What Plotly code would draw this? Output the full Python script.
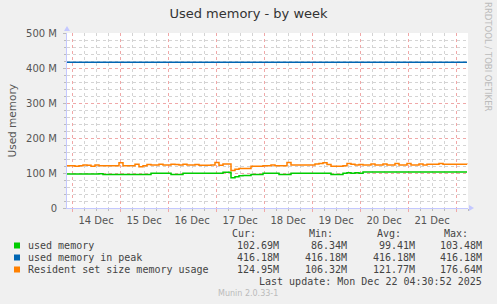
import pandas as pd
import plotly.graph_objects as go

# ---- data (values in M; one sample every 2 hours) ----
start_time = "2025-12-13 21:30"
used_memory = [97, 97, 97, 97, 97, 97, 97, 97, 98,
               96, 96, 96, 96, 96, 96, 96, 96, 96, 96, 96, 96,
               99, 99, 99, 99, 99,
               96, 96, 96,
               99, 99, 99, 99, 99, 99, 99, 99, 99, 99,
               102.5, 102.5, 86.3, 89, 92, 93, 93,
               96, 96, 96,
               99, 99, 99, 99,
               96, 96, 96,
               99, 99, 99, 99, 99, 99, 99, 99, 99, 99,
               96, 96, 96,
               99, 101, 99, 101, 99,
               102.7, 102.7, 102.7, 102.7, 102.7, 102.7, 102.7, 102.7, 102.7,
               102.7, 102.7, 102.7, 102.7, 102.7, 102.7, 102.7, 102.7, 102.7,
               102.7, 102.7, 102.7, 102.7, 102.7, 102.7, 102.7, 102.7, 102.69]
rss_memory = [121, 121, 119, 121, 123, 122, 119, 123, 121, 121, 121, 121, 121, 129,
              121, 121, 121, 125, 118, 121, 124,
              123, 123, 125, 123, 123, 125, 124, 123, 125, 123, 123, 124, 122, 122,
              122, 123, 130, 122, 126, 126,
              107, 111, 113, 113, 113, 119, 119, 119, 121, 121, 123, 121, 121, 121, 130,
              123, 123, 123, 123, 123, 123, 126, 127, 129, 124, 119, 119, 119, 121,
              127, 125, 123, 124,
              123, 123, 126, 123, 123, 126, 123, 123, 127, 123, 123, 127, 123, 123,
              126, 123,
              125, 125, 125, 127, 125, 125, 125, 125, 125, 125, 124.95]
peak_memory = [416.18, 416.18]

series_names = ["used memory", "used memory in peak", "Resident set size memory usage"]
series_colors = ["#00CC00", "#0066B3", "#FF8000"]
stat_headers = ["Cur:", "Min:", "Avg:", "Max:"]
stat_cur = ["102.69M", "416.18M", "124.95M"]
stat_min = ["86.34M", "416.18M", "106.32M"]
stat_avg = ["99.41M", "416.18M", "121.77M"]
stat_max = ["103.48M", "416.18M", "176.64M"]
y_tickvals = [0, 100, 200, 300, 400, 500]
y_ticktext = ["0", "100 M", "200 M", "300 M", "400 M", "500 M"]

times = pd.date_range(start_time, periods=len(used_memory), freq="2h")
peak_times = [times[0], times[-1]]

# ---- layout helpers (pixel -> paper) ----
L, T, W, H = 67, 33, 401, 175


def px(x):
    return (x - L) / W


def py(y):
    return (T + H - y) / H


fig = go.Figure()
fig.add_trace(go.Scatter(x=times, y=used_memory, mode="lines", line_shape="hv",
                         line=dict(color=series_colors[0], width=1.5), name=series_names[0]))
fig.add_trace(go.Scatter(x=peak_times, y=peak_memory, mode="lines",
                         line=dict(color=series_colors[1], width=1.5), name=series_names[1]))
fig.add_trace(go.Scatter(x=times, y=rss_memory, mode="lines", line_shape="hv",
                         line=dict(color=series_colors[2], width=1.5), name=series_names[2]))

axis_col = "#C4C8FF"
fig.update_layout(
    width=497, height=304,
    margin=dict(l=L, r=497 - L - W, t=T, b=304 - T - H),
    paper_bgcolor="#F0F0F0", plot_bgcolor="#FFFFFF",
    showlegend=False,
    font=dict(family="DejaVu Sans", size=10, color="#555555"),
    title=dict(text="Used memory - by week", x=0.5, xanchor="center", xref="container",
               y=1 - 13 / 304, yanchor="middle", yref="container",
               font=dict(family="DejaVu Sans", size=13, color="#333333")),
    xaxis=dict(
        type="date",
        range=["2025-12-13 21:30", "2025-12-22 06:00"],
        tick0="2025-12-14", dtick=86400000,
        tickformat="%d %b", ticklabelmode="period",
        showgrid=True, gridcolor="#F0A8A8", griddash="dot", gridwidth=1,
        ticks="outside", ticklen=3, tickcolor="#F0A8A8",
        showline=True, linecolor=axis_col, linewidth=1,
        zeroline=False,
        tickfont=dict(family="DejaVu Sans", size=10, color="#555555"),
        minor=dict(tick0="2025-12-14", dtick=6 * 3600 * 1000, showgrid=True,
                   gridcolor="#D4D4D4", griddash="dot", gridwidth=1,
                   ticks="outside", ticklen=2, tickcolor="#BBBBBB"),
    ),
    yaxis=dict(
        range=[0, 500],
        tickvals=y_tickvals, ticktext=y_ticktext,
        showgrid=True, gridcolor="#F0A8A8", griddash="dot", gridwidth=1,
        ticks="outside", ticklen=3, tickcolor="#BBBBBB",
        showline=True, linecolor=axis_col, linewidth=1,
        zeroline=False,
        ticklabelstandoff=4,
        tickfont=dict(family="DejaVu Sans", size=10, color="#555555"),
        minor=dict(dtick=20, showgrid=True, gridcolor="#D4D4D4", griddash="dot",
                   gridwidth=1, ticks="outside", ticklen=2, tickcolor="#BBBBBB"),
    ),
)

annotations = []
shapes = []

# axis arrows
shapes.append(dict(type="path", xref="paper", yref="paper",
                   path=f"M {px(64)} {py(31)} L {px(70)} {py(31)} L {px(67)} {py(26)} Z",
                   fillcolor=axis_col, line=dict(width=0)))
shapes.append(dict(type="path", xref="paper", yref="paper",
                   path=f"M {px(469)} {py(205)} L {px(469)} {py(211)} L {px(474)} {py(208)} Z",
                   fillcolor=axis_col, line=dict(width=0)))

# y axis title
annotations.append(dict(text="Used memory", xref="paper", yref="paper",
                        x=px(11), y=py(120.5), xanchor="center", yanchor="middle",
                        textangle=-90, showarrow=False,
                        font=dict(family="DejaVu Sans", size=10.5, color="#555555")))

# right watermark
annotations.append(dict(text="RRDTOOL / TOBI OETIKER", xref="paper", yref="paper",
                        x=px(488), y=py(57), xanchor="center", yanchor="middle",
                        textangle=90, showarrow=False,
                        font=dict(family="DejaVu Sans", size=8.5, color="#BBBBBB")))

mono = dict(family="DejaVu Sans Mono", size=10, color="#444444")

# legend header
header_right = [257, 334, 402, 469]
for h, xr in zip(stat_headers, header_right):
    annotations.append(dict(text=h, xref="paper", yref="paper", x=px(xr), y=py(233),
                            xanchor="right", yanchor="middle", showarrow=False,
                            font=mono, borderpad=0))

rows_y = [245.5, 257.5, 269.5]
value_right = [280, 348, 416, 483]
for i, (name, col, ry) in enumerate(zip(series_names, series_colors, rows_y)):
    shapes.append(dict(type="rect", xref="paper", yref="paper",
                       x0=px(14), x1=px(20), y0=py(ry + 3), y1=py(ry - 3),
                       fillcolor=col, line=dict(width=0)))
    annotations.append(dict(text=name, xref="paper", yref="paper", x=px(27), y=py(ry),
                            xanchor="left", yanchor="middle", showarrow=False,
                            font=mono, borderpad=0))
    for vals, xr in zip([stat_cur, stat_min, stat_avg, stat_max], value_right):
        annotations.append(dict(text=vals[i], xref="paper", yref="paper", x=px(xr), y=py(ry),
                                xanchor="right", yanchor="middle", showarrow=False,
                                font=mono, borderpad=0))

annotations.append(dict(text="Last update: Mon Dec 22 04:30:52 2025", xref="paper", yref="paper",
                        x=px(483), y=py(281.5), xanchor="right", yanchor="middle",
                        showarrow=False, font=mono, borderpad=0))
annotations.append(dict(text="Munin 2.0.33-1", xref="paper", yref="paper",
                        x=px(248), y=py(293.5), xanchor="center", yanchor="middle",
                        showarrow=False, borderpad=0,
                        font=dict(family="DejaVu Sans", size=8, color="#BBBBBB")))

fig.update_layout(annotations=annotations, shapes=shapes)
fig.write_html("out.html")
